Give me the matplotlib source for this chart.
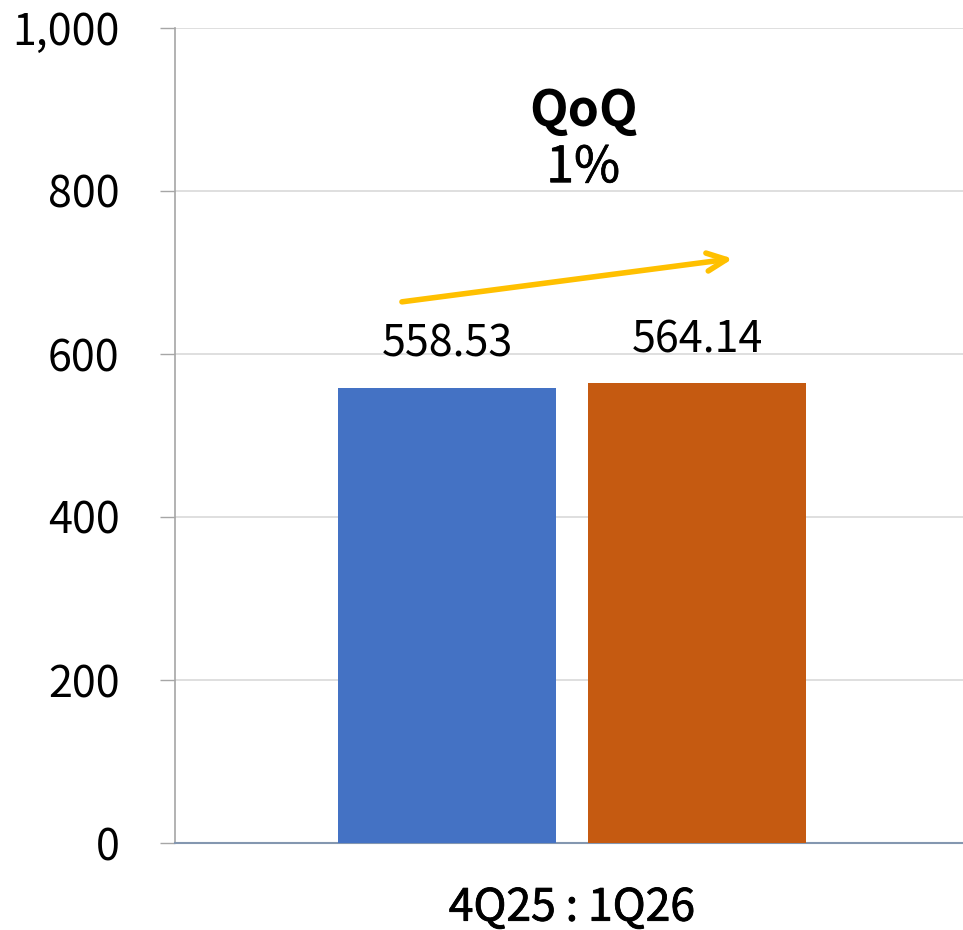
import matplotlib
matplotlib.use("Agg")
import matplotlib.pyplot as plt
import matplotlib.patheffects as pe
from matplotlib.ticker import FuncFormatter
import numpy as np

plt.rcParams['font.family'] = ['Noto Sans CJK KR', 'DejaVu Sans']

category = "4Q25 : 1Q26"
series_names = ["4Q25", "1Q26"]
values = [558.53, 564.14]
colors = ["#4472C4", "#C55A11"]
qoq_title = "QoQ"
qoq_value = "1%"
yticks = [0, 200, 400, 600, 800, 1000]

fig = plt.figure(figsize=(9.63, 9.30), dpi=100)
ax = fig.add_axes([175/963, 87/930, 1 - 175/963, (843-28)/930])

semi = [pe.withStroke(linewidth=0.6, foreground="black")]

width = 0.277
offsets = [-0.1585, 0.1585]
for i, (v, c) in enumerate(zip(values, colors)):
    ax.bar(offsets[i], v, width=width, color=c, zorder=3)
    ax.annotate(f"{v:.2f}", xy=(offsets[i], v), xytext=(0, 15), textcoords="offset points",
                ha="center", va="bottom", fontsize=31, color="black")

ax.set_xlim(-0.504, 0.496)
ax.set_ylim(0, 1000)
ax.set_yticks(yticks)
ax.yaxis.set_major_formatter(FuncFormatter(lambda v, p: f"{int(v):,}"))
ax.tick_params(axis='y', labelsize=31, length=11, width=1, color="#A6A6A6", pad=29)
ax.set_xticks([0.0])
ax.set_xticklabels([category], fontsize=32)
for lbl in ax.get_xticklabels():
    lbl.set_path_effects(semi)
ax.tick_params(axis='x', length=0, pad=30)

ax.grid(axis='y', color="#D9D9D9", linewidth=1.2, zorder=0)
ax.set_axisbelow(True)
for s in ['top', 'right']:
    ax.spines[s].set_visible(False)
ax.spines['left'].set_color("#A6A6A6")
ax.spines['left'].set_linewidth(1.2)
ax.spines['bottom'].set_color("#8497B0")
ax.spines['bottom'].set_linewidth(1.5)

# QoQ annotation
ax.text(0.518, 0.898, qoq_title, transform=ax.transAxes, ha="center", va="center",
        fontsize=36, fontweight="bold")
ax.text(0.518, 0.828, qoq_value, transform=ax.transAxes, ha="center", va="center",
        fontsize=36, path_effects=[pe.withStroke(linewidth=0.5, foreground="black")])
ax.annotate("", xy=(0.708, 0.717), xytext=(0.288, 0.664), xycoords="axes fraction",
            arrowprops=dict(arrowstyle="->,head_length=1.4,head_width=0.65", color="#FFC000",
                            lw=4, shrinkA=0, shrinkB=0))

fig.savefig("out.png", dpi=100)
